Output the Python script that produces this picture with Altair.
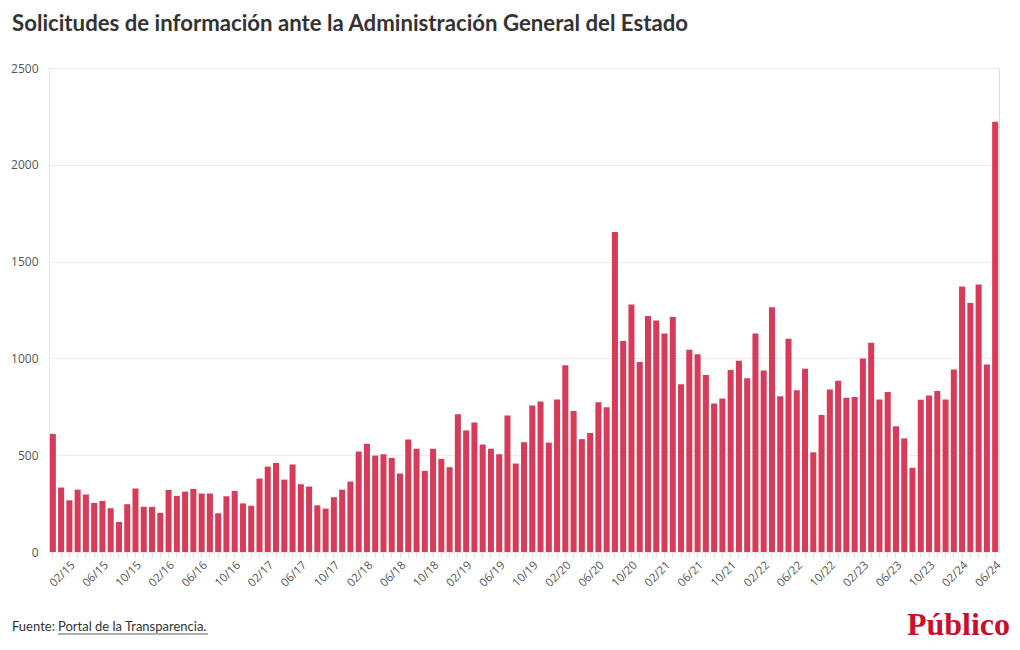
import altair as alt
import pandas as pd

title_text = "Solicitudes de información ante la Administración General del Estado"
source_prefix = "Fuente: "
source_link = "Portal de la Transparencia."
logo_text = "Público"

# Months from 12/14 to 06/24 (labels MM/YY)
months = []
for y in range(14, 25):
    for m in range(1, 13):
        if (y == 14 and m < 12) or (y == 24 and m > 6):
            continue
        months.append(f"{m:02d}/{y:02d}")

values = [
    610, 333, 267, 322, 297, 253, 264, 226, 155, 247, 328, 234,
    233, 202, 321, 290, 312, 326, 302, 302, 200, 288, 315, 251,
    239, 379, 441, 460, 374, 452, 350, 338, 241, 224, 283, 322,
    364, 519, 559, 498, 505, 486, 405, 581, 533, 419, 533, 481,
    438, 712, 628, 669, 555, 533, 505, 705, 457, 567, 757, 778,
    565, 788, 965, 728, 583, 615, 774, 748, 1653, 1090, 1279, 981,
    1219, 1196, 1129, 1214, 867, 1045, 1021, 914, 767, 793, 940, 988,
    898, 1129, 938, 1264, 805, 1102, 836, 947, 515, 707, 840, 885,
    797, 800, 1000, 1081, 788, 826, 649, 587, 435, 786, 809, 831,
    788, 943, 1372, 1286, 1382, 969, 2222,
]

y_ticks = [0, 500, 1000, 1500, 2000, 2500]

df = pd.DataFrame({"mes": months, "solicitudes": values})

BAR = "#d63c5a"
FONT = "Lato"
AXIS_FONT = "Open Sans"

bars = alt.Chart(df).mark_bar(color=BAR).encode(
    x=alt.X(
        "mes:N",
        sort=months,
        title=None,
        scale=alt.Scale(paddingInner=0.27, paddingOuter=0.1),
        axis=alt.Axis(
            labelExpr="indexof(['02','06','10'], substring(datum.label,0,2)) >= 0 ? datum.label : ''",
            labelAngle=-45,
            labelAlign="right",
            labelBaseline="top",
            labelColor="#555555",
            labelFont=AXIS_FONT,
            labelFontSize=11.5,
            labelPadding=2,
            labelOverlap=False,
            ticks=True,
            tickColor="#dddddd",
            tickSize=5,
            domain=False,
            grid=False,
        ),
    ),
    y=alt.Y(
        "solicitudes:Q",
        title=None,
        scale=alt.Scale(domain=[0, 2500], nice=False),
        axis=alt.Axis(
            values=y_ticks,
            format="d",
            labelColor="#555555",
            labelFont=AXIS_FONT,
            labelFontSize=12,
            labelPadding=11,
            ticks=False,
            domain=True,
            domainColor="#e8e8e8",
            gridColor="#ebebeb",
        ),
    ),
)

foot_df = pd.DataFrame({"a": [source_prefix], "b": [source_link], "c": [logo_text]})

src1 = alt.Chart(foot_df).mark_text(
    align="left", baseline="alphabetic", font=FONT, fontSize=13, color="#333333"
).encode(text="a:N", x=alt.value(-37), y=alt.value(563))

src2 = alt.Chart(foot_df).mark_text(
    align="left", baseline="alphabetic", font=FONT, fontSize=13, color="#333333"
).encode(text="b:N", x=alt.value(9), y=alt.value(563))

underline = alt.Chart(foot_df).mark_rule(color="#333333", strokeWidth=0.8).encode(
    x=alt.value(9), x2=alt.value(159), y=alt.value(566)
)

logo = alt.Chart(foot_df).mark_text(
    align="right", baseline="alphabetic", font="Liberation Serif", fontWeight="bold",
    fontSize=32, color="#c8102e"
).encode(text="c:N", x=alt.value(961), y=alt.value(567))

chart = alt.layer(bars, src1, src2, underline, logo).properties(
    width=950,
    height=484,
    autosize=alt.AutoSizeParams(type="none"),
    padding={"left": 41, "top": 60, "right": 12, "bottom": 90},
    title=alt.TitleParams(
        title_text,
        anchor="start",
        frame="group",
        dx=-37,
        offset=27,
        font=FONT,
        fontSize=22.2,
        fontWeight="bold",
        color="#333333",
    ),
).configure_view(stroke=None).configure(background="white")

chart.save("out.html", embed_options={"renderer": "svg", "actions": False})
